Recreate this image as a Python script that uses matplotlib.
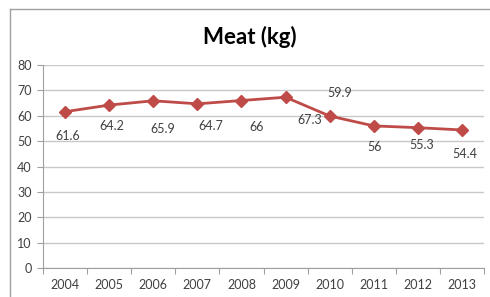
import matplotlib
matplotlib.use('Agg')
import matplotlib.pyplot as plt
from matplotlib.lines import Line2D

years = ['2004', '2005', '2006', '2007', '2008', '2009', '2010', '2011', '2012', '2013']
meat = [61.6, 64.2, 65.9, 64.7, 66, 67.3, 59.9, 56, 55.3, 54.4]
labels = ['61.6', '64.2', '65.9', '64.7', '66', '67.3', '59.9', '56', '55.3', '54.4']

# label offsets in pixels (the labels are scattered like in the original)
offsets = [(3, -24), (3, -21), (9, -28), (13, -22), (15, -26),
           (24, -23), (10, 23), (1, -21), (4, -17), (3, -24)]

plt.rcParams['font.family'] = ['Lato', 'DejaVu Sans']

fig = plt.figure(figsize=(4.9, 2.97), dpi=100)
ax = fig.add_axes([43 / 490, 1 - 268 / 297, 441 / 490, 203 / 297])

x = list(range(len(years)))
ax.plot(x, meat, color='#BE4B48', lw=2, marker='D', ms=6, zorder=3)

for xi, v, lab, off in zip(x, meat, labels, offsets):
    ax.annotate(lab, (xi, v), xytext=off, textcoords='offset pixels',
                ha='center', va='center', fontsize=9, color='#404040')

ax.set_xlim(-0.5, len(years) - 0.5)
ax.set_ylim(0, 80)
ax.set_yticks(range(0, 81, 10))
ax.grid(axis='y', color='#C8C8C8', lw=1)
ax.set_axisbelow(True)

# category ticks between the years, labels in the middle
ax.set_xticks([i - 0.5 for i in range(len(years) + 1)])
ax.set_xticklabels([])
ax.set_xticks(x, minor=True)
ax.set_xticklabels(years, minor=True)
ax.tick_params(axis='x', which='major', length=4, color='#A0A0A0')
ax.tick_params(axis='x', which='minor', length=0, pad=8, labelsize=9, labelcolor='#404040')
ax.tick_params(axis='y', length=4, color='#A0A0A0', labelsize=9, labelcolor='#404040', pad=4)

for s in ['top', 'right']:
    ax.spines[s].set_visible(False)
ax.spines['left'].set_color('#A0A0A0')
ax.spines['bottom'].set_color('#A0A0A0')

fig.text(0.51, 1 - 37 / 297, 'Meat (kg)', ha='center', va='center',
         fontsize=16, fontweight='bold', color='black')

# chart border (left and top only visible)
fig.add_artist(Line2D([10 / 490, 10 / 490], [0, 1 - 9 / 297], color='#A0A0A0', lw=1))
fig.add_artist(Line2D([10 / 490, 1], [1 - 9 / 297, 1 - 9 / 297], color='#A0A0A0', lw=1))

fig.savefig('out.png', dpi=100)
